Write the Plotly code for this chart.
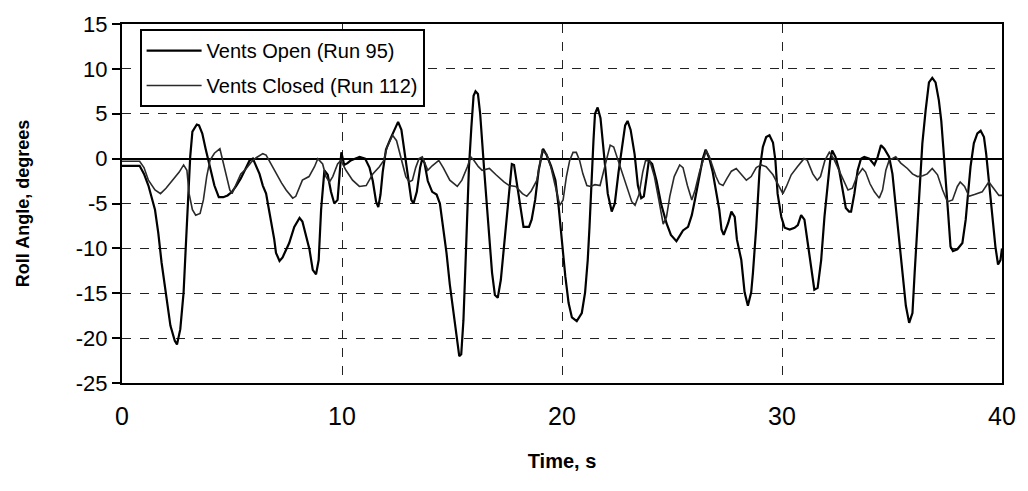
import plotly.graph_objects as go

# ---- data ----
t_open = [0, 0.8, 1.0, 1.2, 1.5, 1.65, 1.8, 2.0, 2.2, 2.4, 2.5, 2.65, 2.8, 2.9, 3.0, 3.1, 3.2, 3.4, 3.5, 3.65, 3.8, 4.0,
          4.2, 4.4, 4.6, 4.8, 5.0, 5.2, 5.4, 5.6, 5.8, 5.95, 6.05, 6.25, 6.4, 6.55, 6.68, 6.8, 6.92, 7.0, 7.16, 7.3,
          7.4, 7.6, 7.83, 8.07, 8.2, 8.3, 8.52, 8.67, 8.82, 8.94, 9.05, 9.2, 9.35, 9.5, 9.65, 9.8, 9.9, 9.97, 10.1,
          10.25, 10.4, 10.6, 10.8, 11.05, 11.25, 11.4, 11.55, 11.65, 11.75, 11.85, 12.0, 12.2, 12.4, 12.55, 12.7,
          12.85, 13.0, 13.15, 13.25, 13.4, 13.55, 13.65, 13.75, 13.9, 14.1, 14.3, 14.45, 14.6, 14.75, 14.9, 15.05,
          15.2, 15.33, 15.42, 15.52, 15.6, 15.68, 15.77, 15.88, 15.98, 16.07, 16.18, 16.28, 16.38, 16.47, 16.6,
          16.72, 16.82, 16.95, 17.08, 17.22, 17.36, 17.5, 17.62, 17.72, 17.82, 17.95, 18.1, 18.25, 18.5, 18.62,
          18.78, 18.94, 19.14, 19.3, 19.5, 19.7, 19.85, 20.0, 20.15, 20.3, 20.45, 20.67, 20.9, 21.05, 21.17, 21.25,
          21.32, 21.43, 21.5, 21.62, 21.75, 21.88, 21.96, 22.08, 22.26, 22.4, 22.57, 22.72, 22.87, 22.98, 23.12,
          23.3, 23.45, 23.6, 23.72, 23.85, 23.95, 24.1, 24.3, 24.5, 24.75, 24.95, 25.2, 25.35, 25.5, 25.73, 25.9,
          26.05, 26.2, 26.4, 26.53, 26.7, 26.85, 27.0, 27.15, 27.25, 27.35, 27.55, 27.7, 27.85, 27.95, 28.15, 28.3,
          28.45, 28.6, 28.68, 28.83, 28.98, 29.13, 29.28, 29.43, 29.59, 29.7, 29.8, 29.97, 30.12, 30.35, 30.57,
          30.72, 30.87, 31.02, 31.17, 31.32, 31.47, 31.62, 31.78, 31.93, 32.08, 32.19, 32.28, 32.43, 32.6, 32.75,
          32.9, 33.05, 33.14, 33.29, 33.44, 33.59, 33.74, 33.97, 34.2, 34.35, 34.5, 34.65, 34.87, 35.02, 35.17,
          35.32, 35.47, 35.63, 35.78, 35.93, 36.03, 36.16, 36.28, 36.38, 36.53, 36.68, 36.83, 36.98, 37.13, 37.24,
          37.33, 37.44, 37.54, 37.66, 37.77, 37.97, 38.2, 38.35, 38.45, 38.57, 38.72, 38.88, 39.03, 39.18, 39.28,
          39.4, 39.55, 39.7, 39.82, 39.93, 40.0]
roll_open = [-0.8, -0.8, -1.7, -3.0, -5.7, -8.3, -11.6, -14.9, -18.6, -20.3, -20.7, -19.0, -14.9, -9.8, -4.6, 0.2,
             3.0, 3.8, 3.7, 2.8, 1.1, -0.9, -3.0, -4.3, -4.3, -4.1, -3.7, -3.0, -2.2, -1.2, -0.2, 0.0, -0.6, -1.7,
             -3.0, -3.9, -5.7, -7.2, -9.0, -10.5, -11.4, -11.0, -10.5, -9.4, -7.6, -6.6, -7.0, -7.9, -10.1, -12.4,
             -12.9, -11.3, -5.7, -1.3, -1.8, -3.7, -5.0, -4.6, -1.3, 0.7, -0.7, -0.5, -0.2, 0.0, 0.2, 0.0, -1.0,
             -2.5, -4.8, -5.4, -4.0, -1.5, 1.0, 2.2, 3.3, 4.1, 3.2, 0.5, -2.5, -4.6, -5.0, -3.7, -1.0, 0.0, -0.5,
             -2.5, -3.7, -4.0, -5.0, -7.6, -10.5, -14.0, -17.0, -20.0, -22.0, -21.8, -18.0, -12.7, -7.6, -1.0, 3.5,
             7.0, 7.5, 7.2, 5.0, 2.0, -1.5, -5.7, -9.4, -12.7, -15.2, -15.5, -13.5, -9.8, -5.7, -2.8, -0.6, -0.7,
             -2.8, -5.4, -7.6, -7.6, -6.8, -4.6, -1.3, 1.1, 0.4, -0.8, -2.4, -5.4, -9.5, -13.1, -16.1, -17.7, -18.1,
             -17.2, -14.9, -11.3, -7.6, -3.5, 2.0, 5.0, 5.7, 4.5, 1.5, -0.5, -3.9, -5.9, -5.0, -1.5, 1.3, 3.7, 4.2,
             3.2, 0.5, -3.0, -4.4, -4.2, -2.0, -0.2, -0.6, -2.5, -5.0, -7.2, -8.5, -9.2, -8.6, -8.0, -7.6, -6.3,
             -4.5, -2.5, 0.0, 1.0, 0.0, -1.5, -3.5, -5.7, -7.9, -8.5, -7.2, -5.9, -6.5, -9.0, -11.3, -14.9, -16.4,
             -14.9, -12.7, -7.6, -1.3, 1.3, 2.4, 2.6, 1.8, -0.2, -3.9, -6.5, -7.7, -7.9, -7.7, -7.4, -6.3, -6.8,
             -9.4, -12.0, -14.6, -14.4, -11.3, -6.5, -3.1, -0.2, 0.9, 0.2, -1.3, -3.5, -5.5, -5.9, -5.9, -3.9, -1.3,
             0.0, 0.2, 0.0, -0.7, 0.2, 1.5, 1.1, 0.2, -1.7, -5.4, -9.0, -13.1, -16.4, -18.3, -17.2, -12.7, -7.6,
             -2.0, 1.7, 5.4, 8.5, 9.0, 8.5, 6.5, 4.2, 1.3, -2.0, -5.7, -9.8, -10.3, -10.1, -9.4, -6.8, -3.9, -0.9,
             1.7, 2.8, 3.1, 2.4, 0.55, -2.4, -6.5, -9.8, -11.8, -11.3, -10.0]

t_closed = [0, 0.8, 1.0, 1.2, 1.5, 1.75, 2.0, 2.3, 2.6, 2.8, 2.95, 3.05, 3.2, 3.35, 3.55, 3.7, 3.85, 4.0, 4.2, 4.45,
            4.6, 4.75, 4.9, 5.0, 5.2, 5.4, 5.65, 5.87, 6.1, 6.4, 6.55, 6.75, 7.0, 7.25, 7.46, 7.76, 7.9, 8.05, 8.2,
            8.5, 8.75, 8.9, 9.12, 9.27, 9.43, 9.58, 9.8, 9.95, 10.18, 10.48, 10.79, 11.1, 11.4, 11.7, 11.9, 12.05,
            12.3, 12.48, 12.67, 12.9, 13.06, 13.2, 13.35, 13.5, 13.65, 13.75, 13.9, 14.1, 14.4, 14.6, 14.9, 15.24,
            15.45, 15.7, 15.85, 16.0, 16.2, 16.37, 16.7, 17.0, 17.36, 17.6, 17.9, 18.2, 18.4, 18.6, 18.86, 19.0,
            19.1, 19.3, 19.5, 19.7, 19.9, 20.05, 20.2, 20.35, 20.5, 20.65, 20.8, 20.95, 21.13, 21.3, 21.5, 21.73,
            21.96, 22.19, 22.35, 22.56, 22.86, 23.17, 23.32, 23.5, 23.67, 23.8, 24.0, 24.2, 24.4, 24.6, 24.75, 24.9,
            25.1, 25.35, 25.5, 25.7, 25.9, 26.05, 26.25, 26.56, 26.7, 26.85, 27.0, 27.15, 27.32, 27.5, 27.7, 27.92,
            28.15, 28.38, 28.6, 28.83, 29.05, 29.28, 29.59, 29.9, 30.04, 30.2, 30.42, 30.7, 31.0, 31.15, 31.4,
            31.6, 31.75, 31.95, 32.15, 32.35, 32.6, 32.8, 33.0, 33.2, 33.4, 33.66, 33.8, 34.0, 34.2, 34.42, 34.57,
            34.72, 34.87, 35.17, 35.4, 35.7, 35.93, 36.16, 36.4, 36.6, 36.83, 37.07, 37.3, 37.52, 37.75, 37.97,
            38.1, 38.3, 38.5, 38.75, 38.97, 39.1, 39.4, 39.6, 39.86, 40.0]
roll_closed = [-0.3, -0.3, -1.0, -2.4, -3.5, -3.9, -3.3, -2.4, -1.5, -0.7, -1.3, -3.9, -5.7, -6.3, -6.1, -4.6, -2.0,
               -0.2, 0.6, 1.1, -0.5, -2.0, -3.5, -3.9, -2.8, -1.7, -1.1, -0.4, 0.1, 0.55, 0.4, -0.5, -1.7, -2.7,
               -3.5, -4.4, -4.2, -3.3, -2.4, -2.0, -0.9, 0.0, -0.6, -2.0, -2.6, -2.0, -0.6, -0.2, -1.3, -2.4, -3.1,
               -3.0, -1.7, -0.9, -0.2, 1.3, 2.6, 2.0, 0.2, -2.0, -2.6, -2.4, -1.0, 0.0, 0.2, -0.5, -1.3, -0.8, -0.2,
               -1.0, -2.4, -3.1, -2.4, -0.9, 0.2, -0.2, -0.9, -1.3, -1.1, -1.8, -2.6, -3.0, -3.1, -3.9, -4.2, -3.6,
               -2.4, -0.5, 0.9, 0.5, -1.0, -3.1, -5.2, -4.6, -2.0, -0.2, 0.7, 0.7, -0.2, -1.7, -3.0, -3.1, -2.9,
               -3.0, -0.9, 1.5, 1.3, -0.2, -2.4, -4.8, -5.2, -4.0, -1.5, -0.2, -0.3, -2.0, -4.6, -7.3, -6.5, -4.2,
               -2.0, -0.7, -1.0, -3.0, -4.6, -3.5, -1.5, 0.9, 0.2, -1.0, -2.0, -2.8, -3.0, -2.2, -1.4, -1.1, -1.7,
               -2.4, -2.0, -1.0, -0.7, -0.9, -1.8, -3.3, -3.9, -3.1, -1.8, -0.9, 0.0, -0.2, -1.7, -2.4, -2.0, -0.2,
               0.7, 0.0, -1.3, -2.5, -3.5, -3.3, -2.0, -1.1, -1.5, -2.8, -3.7, -4.4, -3.5, -1.3, -0.2, 0.2, -0.5,
               -1.1, -1.7, -2.0, -1.9, -1.7, -1.1, -1.8, -3.5, -4.8, -4.6, -3.1, -2.6, -3.1, -4.2, -4.0, -3.8, -3.7,
               -2.6, -3.3, -4.1, -4.1]

x_ticks = [0, 10, 20, 30, 40]
y_ticks = [15, 10, 5, 0, -5, -10, -15, -20, -25]
series_names = ["Vents Open (Run 95)", "Vents Closed (Run 112)"]

fig = go.Figure()
fig.add_trace(go.Scatter(x=t_open, y=roll_open, mode="lines", name=series_names[0],
                         legendgroup="a", line=dict(color="#000000", width=2.2)))
fig.add_trace(go.Scatter(x=t_closed, y=roll_closed, mode="lines", name=series_names[1],
                         legendgroup="b", line=dict(color="#2a2a2a", width=1.6)))

fig.update_layout(
    width=1028, height=491,
    margin=dict(l=122, r=22, t=22, b=108),
    paper_bgcolor="white", plot_bgcolor="white",
    font=dict(family="Liberation Sans, Arial, sans-serif", color="black"),
    showlegend=True,
    legend=dict(x=0.02, y=0.986, xanchor="left", yanchor="top",
                bgcolor="white", bordercolor="black", borderwidth=2,
                font=dict(size=20, family="Liberation Sans, Arial, sans-serif"),
                tracegroupgap=6, traceorder="grouped", itemwidth=55),
)
fig.update_xaxes(range=[0, 40], tickvals=x_ticks, ticktext=[str(v) for v in x_ticks],
                 showgrid=True, gridcolor="#222222", griddash="dash", gridwidth=1,
                 showline=True, linecolor="black", linewidth=2, mirror=True,
                 ticks="", ticklabelstandoff=10,
                 tickfont=dict(size=25, family="Liberation Sans, Arial"),
                 zeroline=False,
                 title=dict(text="<b>Time, s</b>", font=dict(size=20, family="Liberation Sans, Arial"),
                            standoff=25))
fig.update_yaxes(range=[-25, 15], tickvals=y_ticks, ticktext=[str(v) for v in y_ticks],
                 showgrid=True, gridcolor="#222222", griddash="dash", gridwidth=1,
                 showline=True, linecolor="black", linewidth=2, mirror=True,
                 ticks="outside", ticklen=8, tickwidth=2, tickcolor="black",
                 tickfont=dict(size=22, family="Liberation Sans, Arial"),
                 zeroline=True, zerolinecolor="black", zerolinewidth=2,
                 title=dict(text="<b>Roll Angle, degrees</b>", font=dict(size=18), standoff=42))

fig.write_html("out.html", config={"displayModeBar": False},
               post_script="document.body.style.margin='0';")
